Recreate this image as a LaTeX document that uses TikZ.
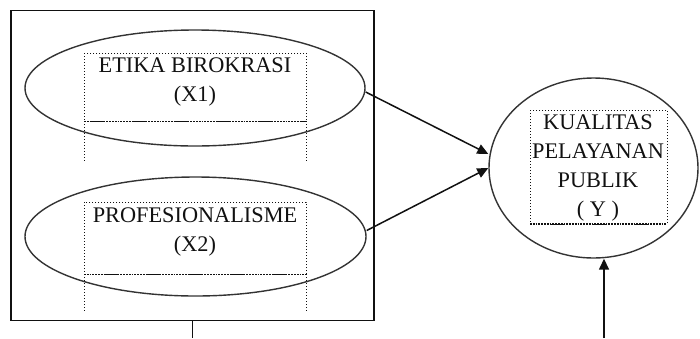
\documentclass[tikz,border=0pt]{standalone}
\usepackage{fontspec}
\setmainfont{Liberation Serif}
\usepackage{xcolor}
\usepackage{tikz}
\usetikzlibrary{arrows.meta,positioning,shapes.geometric}
\definecolor{ink}{HTML}{111111}
\definecolor{rim}{HTML}{333333}
\tikzset{
  line/.style={draw=ink, line width=1.5pt},
  oval/.style={ellipse, draw=rim, line width=1.4pt, inner sep=0pt},
  frame/.style={draw=ink, line width=1.6pt, inner sep=0pt},
  dotbox/.style={draw=ink, dotted, line width=1pt},
  dotbot/.style={draw=ink, densely dotted, line width=1.8pt},
  lbl/.style={text=ink, align=center, inner sep=0pt, font=\fontsize{22.3}{29}\selectfont},
  arr/.style={line, -{Triangle[length=11pt,width=10pt]}},
}
\begin{document}
\begin{tikzpicture}[x=1pt,y=-1pt]
  \useasboundingbox (0,0) rectangle (700,338);
  % group frame
  \node[frame, minimum width=363, minimum height=310] (grp) at (192.5,165.5) {};
  \coordinate (gb) at (192.5,338);
  \draw[line] (grp.south) -- (gb);

  % X1
  \node[oval, minimum width=340, minimum height=116] (x1) at (195,88) {};
  \draw[dotbox] (84,53) rectangle (306,121);
  \draw[dotbot] (84,121.5) -- (306,121.5);
  \draw[dotbox] (84,121) -- (84,162) (306,121) -- (306,162);
  \node[lbl] (t1) at (195,82) {ETIKA BIROKRASI\\(X1)};

  % X2
  \node[oval, minimum width=341, minimum height=119] (x2) at (195.5,236.5) {};
  \draw[dotbox] (84,202) rectangle (306,274);
  \draw[dotbot] (84,274.5) -- (306,274.5);
  \draw[dotbox] (84,274) -- (84,312) (306,274) -- (306,312);
  \node[lbl] (t2) at (195,232) {PROFESIONALISME\\(X2)};

  % Y
  \node[oval, minimum width=209, minimum height=180] (y) at (593.5,168) {};
  \draw[dotbox] (530,110) rectangle (667,224);
  \draw[dotbot] (530,224) -- (667,224);
  \node[lbl] (ty) at (598,168) {KUALITAS\\PELAYANAN\\PUBLIK\\( Y )};
  \coordinate (yb) at (604,338);

  % paths
  \draw[arr] (x1.east) ++(0,4) -- ([yshift=14pt]y.west);
  \draw[arr] (x2.east) ++(0,-6) -- ([yshift=0pt]y.west);
  \draw[arr] (yb) -- (yb |- y.south);
\end{tikzpicture}
\end{document}
